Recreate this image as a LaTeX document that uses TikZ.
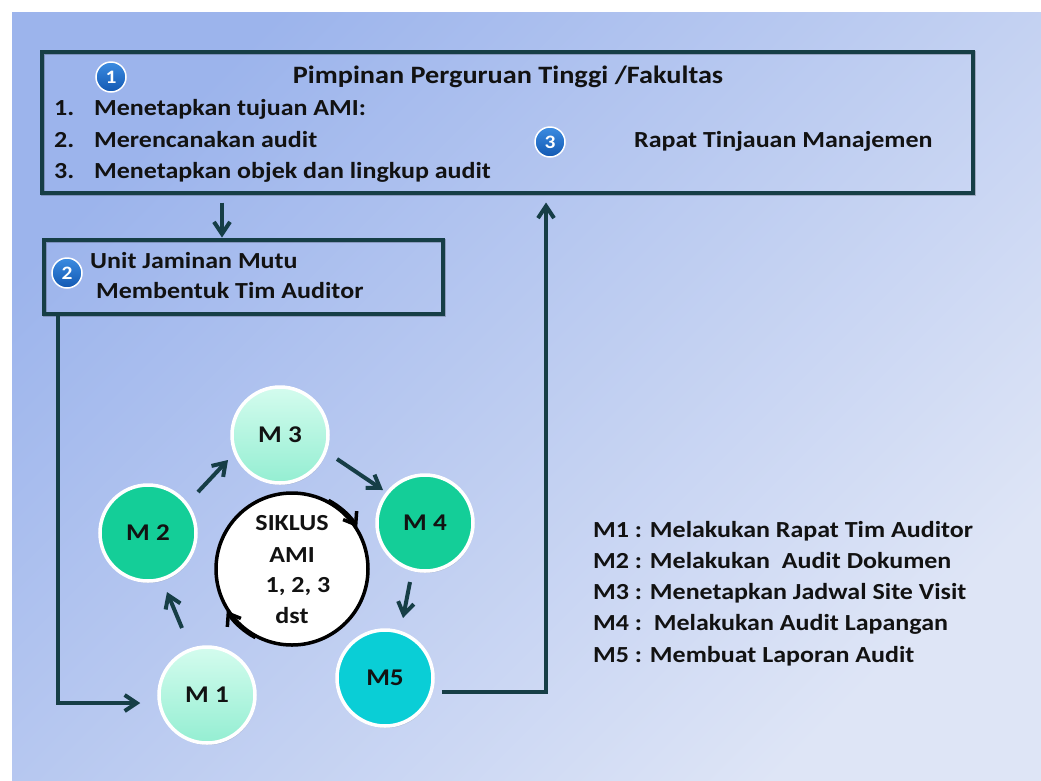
\documentclass[tikz,border=0pt]{standalone}
\usepackage{fontspec}
\setmainfont{Carlito}
\newfontfamily\cbf[FakeStretch=1.13]{Carlito}
\usetikzlibrary{arrows.meta,calc,shadows}
\definecolor{bgA}{RGB}{156,180,236}
\definecolor{bgB}{RGB}{222,229,246}
\definecolor{lineC}{RGB}{22,62,70}
\definecolor{txtC}{RGB}{18,18,18}
\definecolor{mintT}{RGB}{212,252,238}
\definecolor{mintB}{RGB}{148,238,210}
\definecolor{greenC}{RGB}{20,206,152}
\definecolor{cyanC}{RGB}{10,206,214}
\definecolor{badgeT}{RGB}{60,140,225}
\definecolor{badgeB}{RGB}{18,88,178}
\tikzset{
  txt/.style={inner sep=0pt, text=txtC, font=\cbf\bfseries\fontsize{23}{27}\selectfont},
  ttl/.style={inner sep=0pt, text=txtC, font=\cbf\bfseries\fontsize{25}{29}\selectfont},
  frame/.style={draw=lineC, line width=4pt, inner sep=0pt,
    drop shadow={shadow xshift=1pt, shadow yshift=-1.5pt, opacity=0.2, fill=none, draw=black}},
  badge/.style={circle, top color=badgeT, bottom color=badgeB, draw=white, line width=1.5pt,
    minimum size=30pt, inner sep=0pt, text=white, font=\cbf\bfseries\fontsize{19}{21}\selectfont},
  mnode/.style={circle, draw=white, line width=3.5pt, minimum size=96pt, inner sep=0pt, text=txtC,
    font=\cbf\bfseries\fontsize{24}{28}\selectfont,
    drop shadow={shadow xshift=1pt, shadow yshift=-2pt, opacity=0.25}},
  mlight/.style={mnode, top color=mintT, bottom color=mintB},
  mgreen/.style={mnode, fill=greenC},
  mcyan/.style={mnode, fill=cyanC},
  cyc/.style={circle, draw=black, fill=white, line width=3.5pt, minimum size=152pt, inner sep=0pt},
  ctxt/.style={inner sep=0pt, text=txtC, font=\cbf\bfseries\fontsize{23}{27}\selectfont},
  conn/.style={draw=lineC, line width=4pt, -{Straight Barb[length=12pt,width=16pt]}},
  cyarr/.style={draw=black, line width=3.5pt, -{Straight Barb[length=11pt,width=16pt]}}
}
\begin{document}
\begin{tikzpicture}[x=1pt,y=-1pt]
\useasboundingbox (0,0) rectangle (1041,780);
\fill[white] (0,0) rectangle (1041,780);
\shade[top color=bgA, bottom color=bgB, shading angle=45] (12,12) rectangle (1041,780);

% top box
\node[frame, minimum width=931pt, minimum height=141pt] (top) at (507.5,122) {};
\node[badge] (b1) at (111,77) {1};
\node[ttl, anchor=base] (title) at (508,83) {Pimpinan Perguruan Tinggi /Fakultas};
\node[txt, anchor=base west] (n1) at (54,115) {1.};
\node[txt, anchor=base west] (l1) at (94,115) {Menetapkan tujuan AMI:};
\node[txt, anchor=base west] (n2) at (54,147) {2.};
\node[txt, anchor=base west] (l2) at (94,147) {Merencanakan audit};
\node[txt, anchor=base west] (n3) at (54,178) {3.};
\node[txt, anchor=base west] (l3) at (94,178) {Menetapkan objek dan lingkup audit};
\node[badge] (b3) at (550,142) {3};
\node[txt, anchor=base west] (rapat) at (634,147) {Rapat Tinjauan Manajemen};

% box 2
\node[frame, minimum width=399pt, minimum height=74pt] (uj) at (243.5,276.5) {};
\node[badge] (b2) at (67,273) {2};
\node[txt, anchor=base west] (uj1) at (90,268) {Unit Jaminan Mutu};
\node[txt, anchor=base west] (uj2) at (96,298) {Membentuk Tim Auditor};

% cycle
\node[cyc] (cy) at (292,569) {};
\node[ctxt, anchor=base] (s1) at (292,530) {SIKLUS};
\node[ctxt, anchor=base] (s2) at (292,562) {AMI};
\node[ctxt, anchor=base] (s3) at (298,592) {1, 2, 3};
\node[ctxt, anchor=base] (s4) at (292,623) {dst};
\draw[cyarr] (cy.62) arc[start angle=62, end angle=32, radius=76pt];
\draw[cyarr] (cy.242) arc[start angle=242, end angle=212, radius=76pt];

\node[mlight] (m1) at (207,695) {M 1};
\node[mgreen] (m2) at (148,533) {M 2};
\node[mlight] (m3) at (280,435) {M 3};
\node[mgreen] (m4) at (425,523) {M 4};
\node[mcyan]  (m5) at (385,678) {M5};

\draw[conn] ($(m1)+(-25,-67)$) -- ($(m2)+(19,59)$);
\draw[conn] ($(m2)+(50,-41)$) -- ($(m3)+(-52,25)$);
\draw[conn] ($(m3)+(57,24)$) -- ($(m4)+(-42,-33)$);
\draw[conn] ($(m4)+(-15,59)$) -- ($(m5)+(18,-60)$);

% connectors
\coordinate (d1) at ($(top.south west)+(182,8)$);
\coordinate (u1) at ($(top.south west)+(506,8)$);
\coordinate (l0) at ($(uj.south west)+(16,0)$);
\coordinate (l1e) at ($(m1.west)+(-17,8)$);
\coordinate (r0) at ($(m5.east)+(7,14)$);
\draw[conn] (d1) -- (d1 |- uj.north);
\draw[conn] (l0) |- (l1e);
\draw[conn] (r0) -| (u1);

% legend
\node[txt, anchor=base west] (g1) at (593,537) {M1 : Melakukan Rapat Tim Auditor};
\node[txt, anchor=base west] (g2) at (593,568) {M2 : Melakukan\ \ Audit Dokumen};
\node[txt, anchor=base west] (g3) at (593,599) {M3 : Menetapkan Jadwal Site Visit};
\node[txt, anchor=base west] (g4) at (593,630) {M4 :\ \ Melakukan Audit Lapangan};
\node[txt, anchor=base west] (g5) at (593,662) {M5 : Membuat Laporan Audit};
\end{tikzpicture}
\end{document}
